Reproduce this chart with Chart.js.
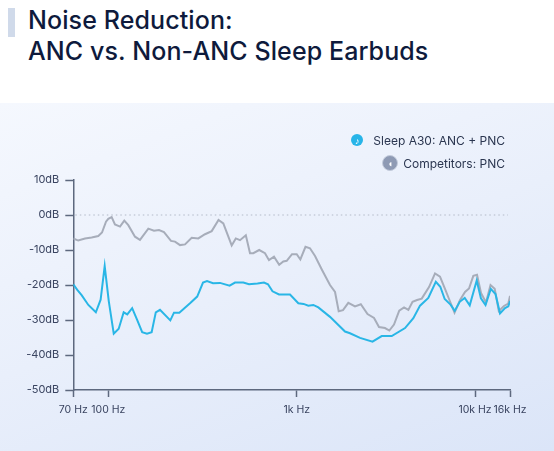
<!DOCTYPE html>
<html>
<head>
<meta charset="utf-8">
<script src="https://cdn.jsdelivr.net/npm/chart.js@4.4.1/dist/chart.umd.min.js"></script>
<style>
  html, body { margin: 0; padding: 0; background: #fff; }
  body { width: 554px; height: 451px; position: relative; overflow: hidden; font-family: "Inter", "Noto Sans", sans-serif; }
  .title-bar { position: absolute; left: 8px; top: 8px; width: 7px; height: 29px; background: #d0daea; }
  h1 { position: absolute; left: 28px; top: 5px; margin: 0; font-size: 25px; line-height: 31px; font-weight: 500; color: #0e1a3c; letter-spacing: 0.1px; }
  .panel { position: absolute; left: 0; top: 103px; width: 554px; height: 348px;
    background: linear-gradient(160deg, #f5f8fe 0%, #e9effb 50%, #dbe5f8 100%); }
  .chart-box { position: absolute; left: 0; top: 103px; width: 554px; height: 348px; }
  .legend { position: absolute; right: 49px; top: 131px; display: flex; flex-direction: column; align-items: flex-end; gap: 5px; font-size: 12px; color: #2b3650; }
  .legend .row { display: flex; align-items: center; height: 18px; }
  .dot { border-radius: 50%; display: inline-flex; align-items: center; justify-content: center; color: #fff; font-size: 9px; line-height: 1; }
  .dot.blue { width: 12px; height: 12px; background: #27b4e8; margin-right: 10px; }
  .dot.gray { width: 14px; height: 14px; background: #8e9ab4; border: 1px solid #c3cbdb; margin-right: 5px; }
</style>
</head>
<body>
<div class="title-bar"></div>
<h1>Noise Reduction:<br>ANC vs. Non-ANC Sleep Earbuds</h1>
<div class="panel"></div>
<div class="chart-box"><canvas id="nr-chart"></canvas></div>
<div class="legend">
  <div class="row"><span class="dot blue">♪</span><span>Sleep A30: ANC + PNC</span></div>
  <div class="row"><span class="dot gray">◖</span><span>Competitors: PNC</span></div>
</div>
<script>
// frequency ticks (Hz) and their labels
const freqTicks = [70, 100, 1000, 10000, 16000];
const freqLabels = ["70 Hz", "100 Hz", "1k Hz", "10k Hz", "16k Hz"];

// Sleep A30: ANC + PNC
const ancFreq = [70, 72.9, 76.2, 81.6, 88.1, 92.5, 96.4, 100.6, 106.9, 113.6, 120.7, 126.1, 133.9, 142.1, 151.3, 160.5, 169.9, 178.7, 188.1, 213.4, 223.2, 238.2, 271.5, 296.4, 318.2, 334.2, 359.6, 391.7, 440.4, 470.5, 520.8, 558.2, 619.2, 670.4, 704.1, 743.9, 805.4, 921.3, 1021, 1092, 1162, 1239, 1322, 1537, 1866, 1990, 2265, 2661, 2997, 3411, 4051, 4509, 4916, 5471, 6028, 6387, 6760, 7288, 7694, 8208, 8755, 9339, 10231, 10824, 11514, 12363, 13167, 13988, 14962, 15639, 16000];
const ancDb = [-19.8, -21.4, -22.9, -25.7, -27.8, -24.2, -14.6, -24.6, -33.9, -32.5, -27.8, -28.4, -26.6, -29.9, -33.5, -33.9, -33.5, -27.8, -27.1, -30.1, -27.9, -27.9, -25.2, -23.3, -19.3, -18.9, -19.5, -19.4, -20.2, -19.3, -19.3, -19.8, -19.6, -19.3, -19.8, -21.8, -22.7, -22.7, -25.2, -25.4, -25.9, -25.7, -26.4, -29.1, -33.3, -33.8, -35.1, -36.2, -34.6, -34.6, -32.3, -29.5, -25.9, -23.7, -19.1, -20.5, -24, -25.6, -27.4, -24.8, -23.7, -25.8, -18.7, -23.8, -25.7, -21.1, -22.6, -28.1, -26.6, -26.1, -24.6];

// Competitors: PNC
const pncFreq = [70, 73.6, 78.9, 84.4, 90.3, 93.8, 97.7, 100, 104.2, 108.5, 115.4, 121.6, 127.7, 138.6, 147.3, 163.1, 174.8, 185.8, 197.5, 215.2, 226, 240.3, 255.4, 277.1, 300.5, 326.1, 353.9, 384.6, 407.8, 451.8, 475.1, 500.1, 537, 565.1, 588.4, 632.2, 678.6, 712.6, 757.7, 807.4, 849, 885.1, 944.1, 1000, 1048, 1120, 1187, 1267, 1387, 1537, 1640, 1720, 1818, 1947, 2123, 2288, 2495, 2714, 2894, 3127, 3306, 3512, 3758, 3999, 4227, 4463, 4730, 5025, 5521, 5966, 6362, 6786, 7149, 7674, 8240, 8789, 9255, 9782, 10272, 10839, 11591, 12314, 13026, 13764, 14759, 15639, 16000];
const pncDb = [-6.7, -7.3, -6.7, -6.4, -6.0, -5.0, -1.9, -1.1, -0.6, -2.7, -3.3, -1.6, -2.9, -6.2, -7.1, -3.9, -4.5, -4.3, -4.9, -7.4, -7.6, -8.6, -8.4, -6.5, -6.7, -5.5, -4.6, -1.4, -2.4, -8.7, -6.7, -7.2, -5.8, -10.9, -10.9, -10, -10.9, -12.9, -11.9, -14.2, -13.3, -13.1, -11.2, -11.2, -12.7, -9.1, -9.5, -11.7, -15.7, -20, -22, -27.5, -27.2, -25.1, -26.1, -25.5, -28.3, -29.4, -32, -32.3, -33, -31.3, -27.3, -26.4, -27.1, -24.8, -24.3, -23.9, -20.6, -16.7, -17.6, -21.1, -24, -27.9, -24.3, -22, -21, -17.4, -17.1, -22.3, -25, -20, -21.1, -27.4, -26, -25.3, -23.1];

const toPoints = (xs, ys) => xs.map((x, i) => ({ x: x, y: ys[i] }));

// the source chart spaces its frequency bands a little unevenly;
// each tick sits at this fraction of the axis width, log scale in between
const tickSpacing = [0, 0.0801, 0.5116, 0.9199, 1];

class BandLogScale extends Chart.LogarithmicScale {
    getPixelForValue(value) {
        if (value === undefined || value === null || value <= 0) return NaN;
        const lv = Math.log10(value);
        let i = 0;
        while (i < freqTicks.length - 2 && lv > Math.log10(freqTicks[i + 1])) i++;
        const a = Math.log10(freqTicks[i]), b = Math.log10(freqTicks[i + 1]);
        const dec = tickSpacing[i] + (lv - a) / (b - a) * (tickSpacing[i + 1] - tickSpacing[i]);
        return this.getPixelForDecimal(dec);
    }
    getValueForPixel(pixel) {
        const dec = this.getDecimalForPixel(pixel);
        let i = 0;
        while (i < tickSpacing.length - 2 && dec > tickSpacing[i + 1]) i++;
        const a = Math.log10(freqTicks[i]), b = Math.log10(freqTicks[i + 1]);
        const t = (dec - tickSpacing[i]) / (tickSpacing[i + 1] - tickSpacing[i]);
        return Math.pow(10, a + t * (b - a));
    }
}
BandLogScale.id = "bandLog";
BandLogScale.defaults = Chart.LogarithmicScale.defaults;
Chart.register(BandLogScale);

// dotted reference line at 0 dB
const zeroLine = {
    id: "zeroLine",
    beforeDatasetsDraw(chart) {
        const { ctx, chartArea, scales } = chart;
        const y = scales.y.getPixelForValue(0);
        ctx.save();
        ctx.strokeStyle = "#b3bac8";
        ctx.lineWidth = 1;
        ctx.setLineDash([1.5, 3]);
        ctx.beginPath();
        ctx.moveTo(chartArea.left + 2, y);
        ctx.lineTo(chartArea.right - 2, y);
        ctx.stroke();
        ctx.restore();
    }
};

const axisColor = "#5d687e";
const yFont = { family: "Inter, 'Noto Sans', sans-serif", size: 11 };
const xFont = { family: "Inter, 'Noto Sans', sans-serif", size: 10.5 };

new Chart(document.getElementById("nr-chart").getContext("2d"), {
    type: "line",
    data: {
        datasets: [{
            label: "Sleep A30: ANC + PNC",
            data: toPoints(ancFreq, ancDb),
            borderColor: "#29b6e6",
            borderWidth: 2,
            pointRadius: 0,
            tension: 0,
            fill: false
        }, {
            label: "Competitors: PNC",
            data: toPoints(pncFreq, pncDb),
            borderColor: "#a7adba",
            borderWidth: 2,
            pointRadius: 0,
            tension: 0,
            fill: false
        }]
    },
    plugins: [zeroLine],
    options: {
        responsive: true,
        maintainAspectRatio: false,
        animation: false,
        layout: { padding: { left: 0, top: 77, right: 44, bottom: 31 } },
        plugins: {
            legend: { display: false },
            tooltip: { enabled: false }
        },
        scales: {
            x: {
                type: "bandLog",
                min: 70,
                max: 16000,
                afterBuildTicks: scale => {
                    scale.ticks = freqTicks.map(v => ({ value: v }));
                },
                afterFit: scale => { scale.height = 30; },
                ticks: {
                    autoSkip: false,
                    maxRotation: 0,
                    padding: 7,
                    color: "#3a4460",
                    font: xFont,
                    callback: value => freqLabels[freqTicks.indexOf(value)]
                },
                grid: {
                    drawOnChartArea: false,
                    tickLength: 7,
                    tickColor: axisColor,
                    tickWidth: 1.5
                },
                border: { color: axisColor, width: 1.5 }
            },
            y: {
                min: -50,
                max: 10,
                afterFit: scale => { scale.width = 73.3; },
                ticks: {
                    stepSize: 10,
                    padding: 6,
                    color: "#3a4460",
                    font: yFont,
                    callback: value => value + "dB"
                },
                grid: {
                    drawOnChartArea: false,
                    tickLength: 8,
                    tickColor: axisColor,
                    tickWidth: 1.5
                },
                border: { color: axisColor, width: 1.5 }
            }
        }
    }
});
</script>
</body>
</html>
